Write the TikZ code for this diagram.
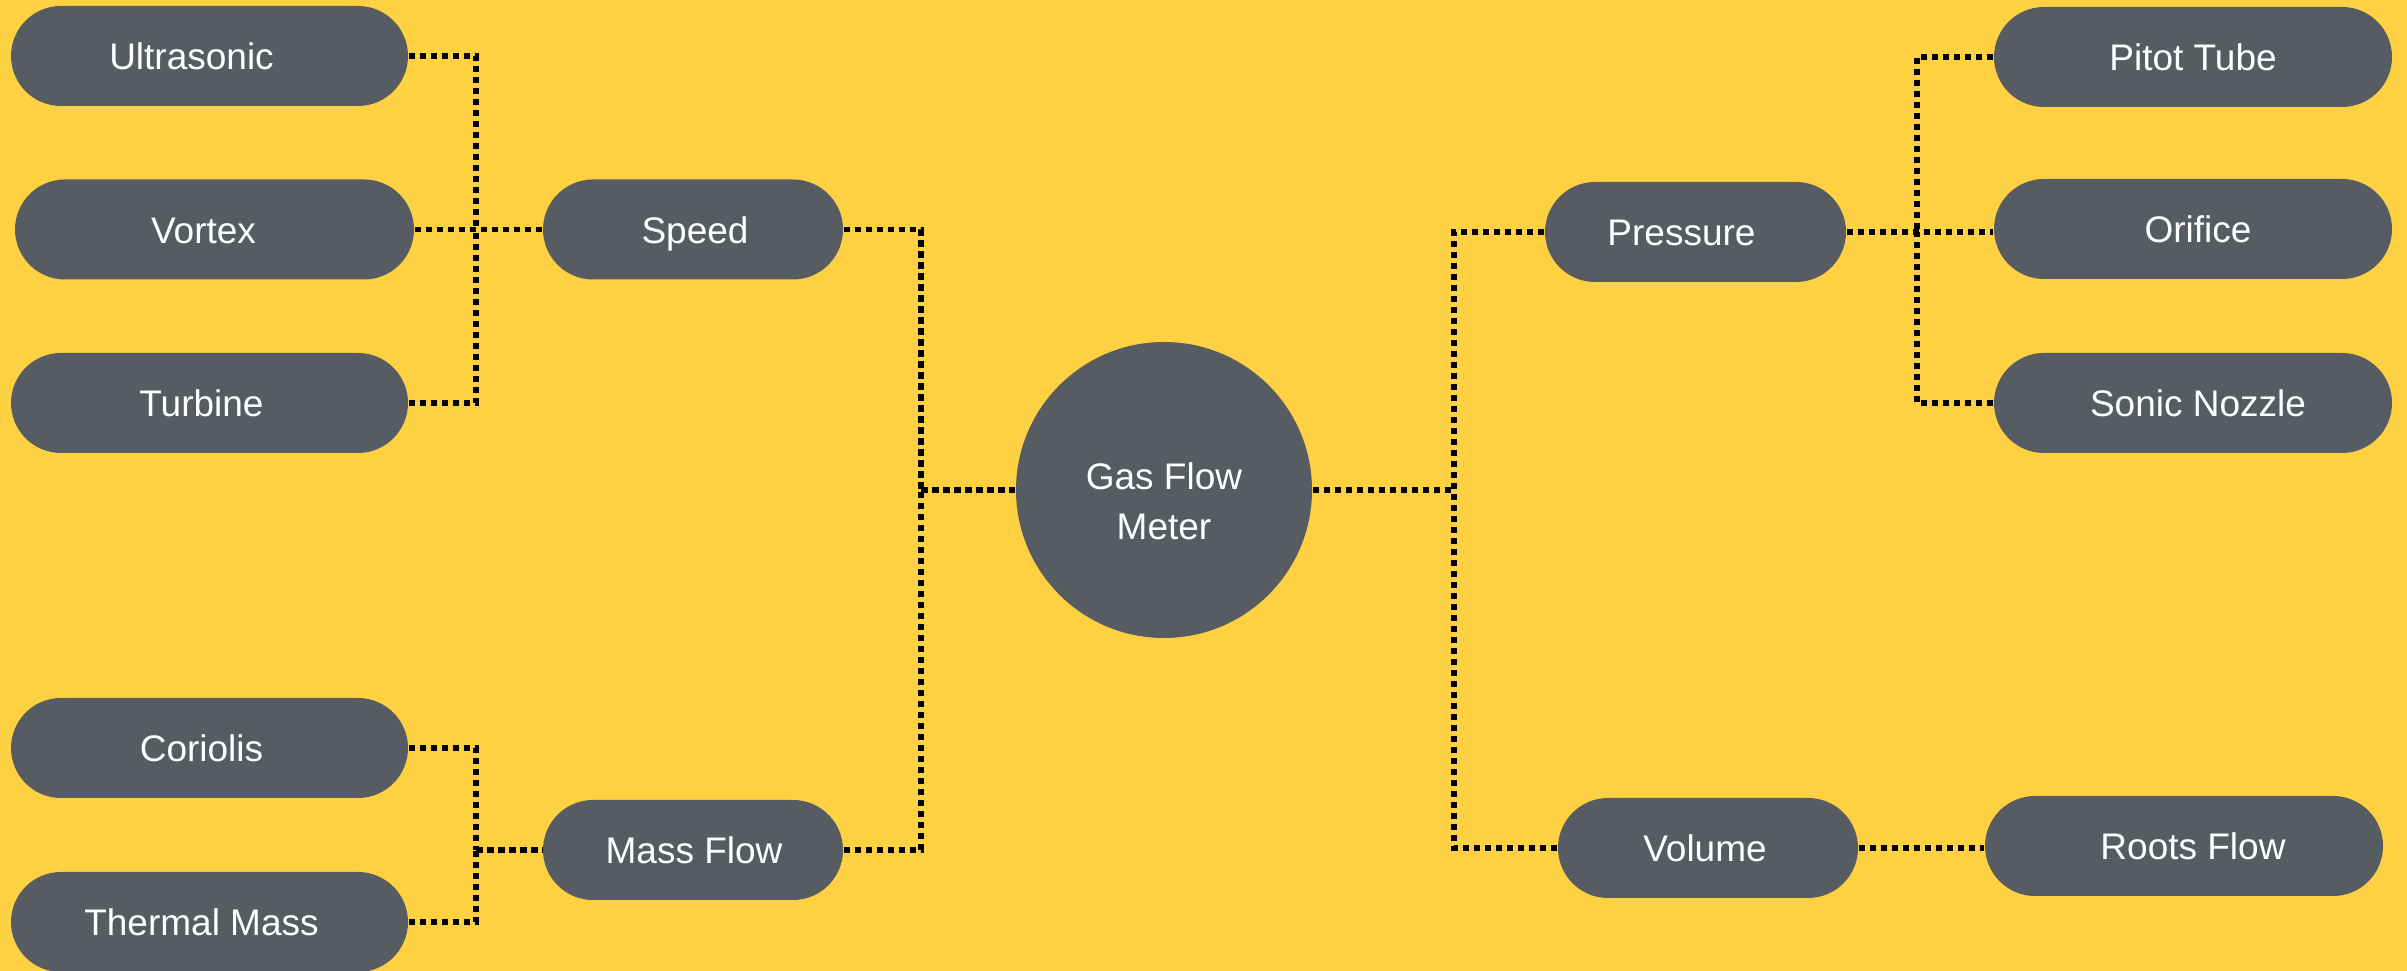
\documentclass[tikz,border=0pt]{standalone}
\usepackage{fontspec}
\setmainfont{Liberation Sans}
\definecolor{bgyellow}{HTML}{FED142}
\definecolor{pillgray}{HTML}{575B62}
\tikzset{
  pillbox/.style={fill=pillgray, draw=none, rounded corners=15pt, minimum height=30pt, inner sep=0pt},
  lbl/.style={text=white, font=\fontsize{11.1}{15}\selectfont, inner sep=0pt, align=center},
  conn/.style={draw=black, line width=1.65pt, dash pattern=on 2pt off 1.3pt}
}
\newcommand\pill[6]{%
  \node[pillbox, minimum width=#4*0.3pt] (#1) at (#2,#3) {};
  \node[lbl, anchor=base] (#1t) at ([xshift=#5*0.3pt, yshift=-4.1pt]#1.center) {#6};}
\begin{document}
\begin{tikzpicture}[x=0.3pt,y=-0.3pt]
\fill[bgyellow] (0,0) rectangle (2407,971);
\useasboundingbox (0,0) rectangle (2407,971);
% left side
\pill{ult}{209.5}{56}{397}{-18}{Ultrasonic}
\pill{vor}{214.5}{229.5}{399}{-11}{Vortex}
\pill{tur}{209.5}{403}{397}{-8}{Turbine}
\pill{spd}{693}{229.5}{300}{2}{Speed}
\pill{cor}{209.5}{748}{397}{-8}{Coriolis}
\pill{thm}{209.5}{922}{397}{-8}{Thermal Mass}
\pill{mas}{693}{850}{300}{1}{Mass Flow}
% centre
\node[circle, fill=pillgray, minimum size=296*0.3pt, inner sep=0pt] (gfm) at (1164,490) {};
\node[lbl] (gfmt) at ([yshift=-11*0.3pt]gfm.center) {Gas Flow\\Meter};
% right side
\pill{prs}{1695.5}{232}{301}{-14}{Pressure}
\pill{pit}{2193}{57}{398}{0}{Pitot Tube}
\pill{ori}{2193}{229}{398}{5}{Orifice}
\pill{son}{2193}{403}{398}{5}{Sonic Nozzle}
\pill{vol}{1708}{848}{300}{-3}{Volume}
\pill{roo}{2184}{846}{398}{9}{Roots Flow}
% junctions
\coordinate (lj) at (476,229.5);
\coordinate (mj) at (476,850);
\coordinate (cj) at (921,490);
\coordinate (rj) at (1454,490);
\coordinate (pj) at (1917,232);
% connectors
\draw[conn] (ult.east) -| (lj);
\draw[conn] (tur.east) -| (lj);
\draw[conn] (vor.east) -- (spd.west);
\draw[conn] (cor.east) -| (mj);
\draw[conn] (thm.east) -| (mj);
\draw[conn] (mj) -- (mas.west);
\draw[conn] (spd.east) -| (cj);
\draw[conn] (mas.east) -| (cj);
\draw[conn] (cj) -- (gfm.west);
\draw[conn] (gfm.east) -- (rj);
\draw[conn] (prs.west) -| (rj);
\draw[conn] (vol.west) -| (rj);
\draw[conn] (prs.east) -- (prs.east -| ori.west);
\draw[conn] (pit.west) -| (pj);
\draw[conn] (son.west) -| (pj);
\draw[conn] (vol.east) -- (vol.east -| roo.west);
\end{tikzpicture}
\end{document}
